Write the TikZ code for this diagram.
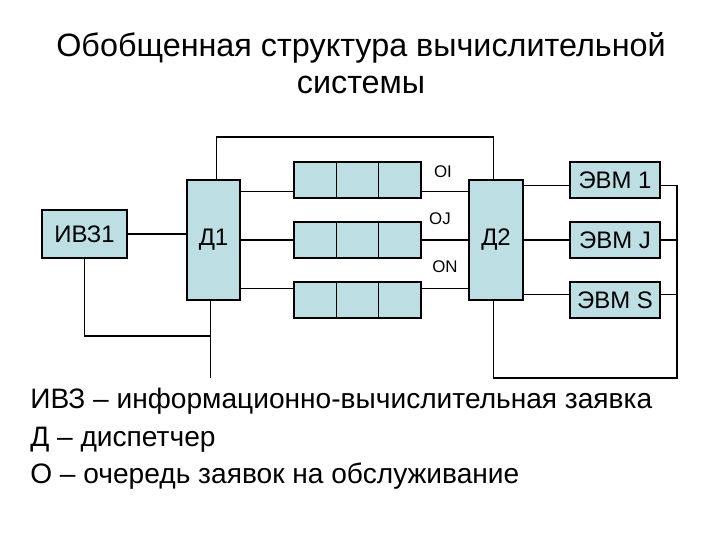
\documentclass[tikz,border=0pt]{standalone}
\usepackage{fontspec}
\setmainfont{Liberation Sans}
\usetikzlibrary{calc}
\definecolor{boxfill}{RGB}{189,222,227}
\tikzset{
  blk/.style={draw, fill=boxfill, line width=0.8pt, inner sep=0pt, font=\fontsize{17}{20}\selectfont},
  cell/.style={blk, minimum width=1.06cm, minimum height=0.9cm},
  wire/.style={line width=0.8pt},
  qlab/.style={font=\fontsize{12}{14}\selectfont},
  txt/.style={anchor=base west, inner sep=0pt, font=\fontsize{20}{24}\selectfont},
}

\begin{document}
\begin{tikzpicture}[x=0.025cm, y=-0.025cm]
  \useasboundingbox (0,0) rectangle (720,540);
  % --- title ---
  \node[align=center, font=\fontsize{23}{26.5}\selectfont] (title) at (361,63)
    {Обобщенная структура вычислительной\\системы};

  % --- source and dispatchers ---
  \node[blk, minimum width=2.125cm, minimum height=1.2cm] (ivz) at (84.5,234) {ИВЗ1};
  \node[blk, minimum width=1.325cm, minimum height=3cm] (d1) at (213.5,240) {Д1};
  \node[blk, minimum width=1.35cm, minimum height=3cm] (d2) at (496,240) {Д2};

  % --- queues ---
  \foreach \r/\yy in {1/180,2/240,3/300}{
    \foreach \c/\xx in {1/315.2,2/357.5,3/399.8}{
      \node[cell] (q\r\c) at (\xx,\yy) {};
    }
  }
  \node[qlab] (li) at (443,172) {OI};
  \node[qlab] (lj) at (440,219) {OJ};
  \node[qlab] (ln) at (445,267) {ON};

  % --- computers ---
  \node[blk, minimum width=2.25cm, minimum height=0.9cm] (e1) at (615,180) {ЭВМ 1};
  \node[blk, minimum width=2.25cm, minimum height=0.9cm] (e2) at (615,240) {ЭВМ J};
  \node[blk, minimum width=2.25cm, minimum height=0.9cm] (e3) at (615,300) {ЭВМ S};

  % --- levels of the wires ---
  \coordinate (a1) at ($(d1.north east)!0.1!(d1.south east)$);
  \coordinate (a3) at ($(d1.north east)!0.9!(d1.south east)$);
  \coordinate (b1) at ($(d2.north east)!0.05!(d2.south east)$);
  \coordinate (b3) at ($(d2.north east)!0.95!(d2.south east)$);
  \coordinate (d1t) at ([xshift=2pt]d1.north);
  \coordinate (d1b) at ([xshift=-2pt]d1.south);
  \coordinate (d2t) at ([xshift=-2pt]d2.north);
  \coordinate (d2b) at ([xshift=-2pt]d2.south);
  \coordinate (tp) at (0,137);
  \coordinate (jn) at (0,336);
  \coordinate (bt) at (0,378);
  \coordinate (rb) at (677,378);

  % --- wires ---
  \draw[wire] (ivz.east) -- (ivz.east -| d1.west);
  \draw[wire] (a1) -- (a1 -| q11.west);
  \draw[wire] (d1.east) -- (q21.west);
  \draw[wire] (a3) -- (a3 -| q31.west);
  \draw[wire] (a1 -| q13.east) -- (a1 -| d2.west);
  \draw[wire] (q23.east) -- (d2.west);
  \draw[wire] (a3 -| q33.east) -- (a3 -| d2.west);
  \draw[wire] (b1) -- (b1 -| e1.west);
  \draw[wire] (d2.east) -- (e2.west);
  \draw[wire] (b3) -- (b3 -| e3.west);
  \draw[wire] (d1t) |- (tp -| d2t) -- (d2t);
  \draw[wire] (ivz.south) |- (jn -| d1b);
  \draw[wire] (d1b) -- (bt -| d1b);
  \draw[wire] (b1 -| e1.east) -- (b1 -| rb);
  \draw[wire] (e2.east) -- (e2.east -| rb);
  \draw[wire] (b3 -| e3.east) -- (b3 -| rb);
  \draw[wire] (b1 -| rb) -- (rb) -- (rb -| d2b) -- (d2b);

  % --- legend ---
  \node[txt] (t1) at (30,408) {ИВЗ – информационно-вычислительная заявка};
  \node[txt] (t2) at (30,446) {Д – диспетчер};
  \node[txt] (t3) at (30,483) {О – очередь заявок на обслуживание};
\end{tikzpicture}
\end{document}
